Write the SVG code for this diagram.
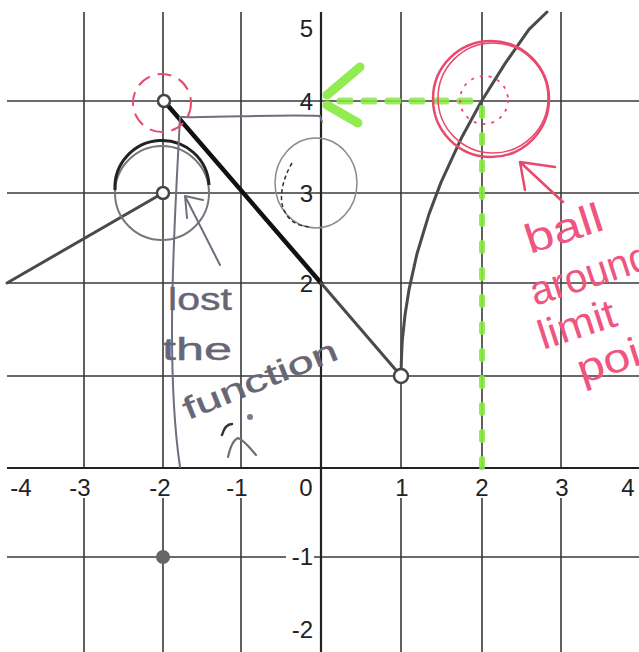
<svg xmlns="http://www.w3.org/2000/svg" width="639" height="652" viewBox="0 0 639 652">
<style>
.grid{stroke:#3a3a3a;stroke-width:1.6;fill:none}
.axis{stroke:#222;stroke-width:2.2;fill:none}
.lbl{font-family:"Liberation Sans",Arial,sans-serif;font-size:24px;fill:#222}
.fn{stroke:#4a4a4a;stroke-width:3;fill:none;stroke-linecap:round;stroke-linejoin:round}
.open{fill:#fff;stroke:#444;stroke-width:2.5}
.hand{stroke:#6e6e7c;stroke-width:2;fill:none;stroke-linecap:round}
.htxt{font-family:"Liberation Sans",Arial,sans-serif;font-size:31px;fill:#666674;stroke:#666674;stroke-width:0.4}
.pink{stroke:#e84a6e;fill:none}
.ptxt{font-family:"Liberation Sans",Arial,sans-serif;font-size:41px;fill:#f0557f}
.green{stroke:#86ea3e;fill:none;stroke-linecap:round}
</style>
<rect width="639" height="652" fill="#fff"/>
<g id="grid">
  <path class="grid" d="M84,12V468M84,498V652M163,12V468M163,498V652M241,12V468M241,498V652M401,12V468M401,498V652M482,12V468M482,498V652M561,12V468M561,498V652"/>
  <path class="grid" d="M7,101H639M7,193H639M7,283H639M7,376H639M7,557H286M314,557H639"/>
  <path class="axis" d="M321,12V652M7,468H639"/>
</g>
<g id="axis-labels" class="lbl">
  <text x="21" y="496" text-anchor="middle">-4</text>
  <text x="80" y="496" text-anchor="middle">-3</text>
  <text x="160" y="496" text-anchor="middle">-2</text>
  <text x="237" y="496" text-anchor="middle">-1</text>
  <text x="306" y="496" text-anchor="middle">0</text>
  <text x="402" y="496" text-anchor="middle">1</text>
  <text x="482" y="496" text-anchor="middle">2</text>
  <text x="562" y="496" text-anchor="middle">3</text>
  <text x="628" y="496" text-anchor="middle">4</text>
  <text x="313" y="37" text-anchor="end">5</text>
  <text x="313" y="110" text-anchor="end">4</text>
  <text x="313" y="202" text-anchor="end">3</text>
  <text x="313" y="292" text-anchor="end">2</text>
  <text x="313" y="565" text-anchor="end">-1</text>
  <text x="313" y="638" text-anchor="end">-2</text>
</g>
<g id="function">
  <path class="fn" d="M7,283L163,193"/>
  <path class="fn" d="M164,101L321,283" style="stroke:#111;stroke-width:4.5"/>
  <path class="fn" d="M321,283L401,376"/>
  <path class="fn" d="M401,376.5C401.5,350 402.5,337 402.6,337.7L405,315.1L409,289.7L417,253.7L429,214.1L441,182.4L461,138.8L481,102L505,63.6L529,29.3L547,12"/>
</g>
<g id="annotations-gray">
  <circle cx="162" cy="193" r="47" stroke="#777" stroke-width="2" fill="none"/>
  <path d="M115,190A47,47 0 0 1 209,185" stroke="#222" stroke-width="3" fill="none"/>
  <ellipse cx="316" cy="183" rx="41" ry="45" stroke="#8a8a8a" stroke-width="1.5" fill="none"/>
  <path d="M292,163C282,180 278,200 285,212C290,222 298,226 310,227" stroke="#333" stroke-width="1.5" fill="none" stroke-dasharray="4 3"/>
  <path class="hand" d="M180,117C220,118 280,114 320,116L322,122"/>
  <path class="hand" d="M180,117C178,160 172,250 172,330C172,400 176,440 180,467"/>
  <path class="hand" d="M220,265L185,196M185,196L187,218M185,196L203,200"/>
  <text class="htxt" x="168" y="310" textLength="64" lengthAdjust="spacingAndGlyphs">lost</text>
  <text class="htxt" x="162" y="360" textLength="70" lengthAdjust="spacingAndGlyphs">the</text>
  <text class="htxt" x="188" y="420" transform="rotate(-22 188 420)" textLength="164" lengthAdjust="spacingAndGlyphs">function</text>
  <path d="M222,435C224,428 228,424 232,424" stroke="#333" stroke-width="2.5" fill="none" stroke-linecap="round"/>
  <circle cx="250" cy="417" r="3" fill="#7a7a90"/>
  <path d="M228,457C230,448 233,440 238,438C244,440 250,448 256,455" stroke="#6e6e7c" stroke-width="2.2" fill="none" stroke-linecap="round"/>
</g>
<g id="points">
  <circle class="open" cx="164" cy="101" r="6"/>
  <circle class="open" cx="163" cy="193" r="6"/>
  <circle class="open" cx="401" cy="376" r="7"/>
  <circle cx="163" cy="557" r="7" fill="#666"/>
</g>
<g id="annotations-green">
  <path class="green" d="M340,101H480" stroke-width="7" stroke-dasharray="10 14" stroke-opacity="0.85"/>
  <path class="green" d="M360,67L327,95M358,123L327,105" stroke-width="9" stroke-opacity="0.9"/>
  <path class="green" d="M482,108V468" stroke-width="6" stroke-dasharray="8 19" stroke-opacity="0.9"/>
</g>
<g id="annotations-pink">
  <circle cx="162" cy="103" r="29" class="pink" stroke="#f0809a" stroke-width="2" stroke-dasharray="14 8"/>
  <circle cx="491" cy="99" r="58" class="pink" stroke-width="2.5"/>
  <circle cx="493" cy="98" r="55" class="pink" stroke-width="1.5"/>
  <circle cx="484" cy="100" r="24" class="pink" stroke-width="1.8" stroke-dasharray="3 6"/>
  <path class="pink" d="M563,202L520,162M520,162L555,167M520,162L525,190" stroke-width="2.5" stroke-linecap="round"/>
  <text class="ptxt" x="530" y="254" transform="rotate(-18 530 254)" textLength="80" lengthAdjust="spacingAndGlyphs">ball</text>
  <text class="ptxt" x="535" y="306" transform="rotate(-18 535 306)" textLength="125" lengthAdjust="spacingAndGlyphs">around</text>
  <text class="ptxt" x="543" y="350" transform="rotate(-18 543 350)" textLength="80" lengthAdjust="spacingAndGlyphs">limit</text>
  <text class="ptxt" x="582" y="384" transform="rotate(-18 582 384)" textLength="105" lengthAdjust="spacingAndGlyphs">point</text>
</g>
</svg>
